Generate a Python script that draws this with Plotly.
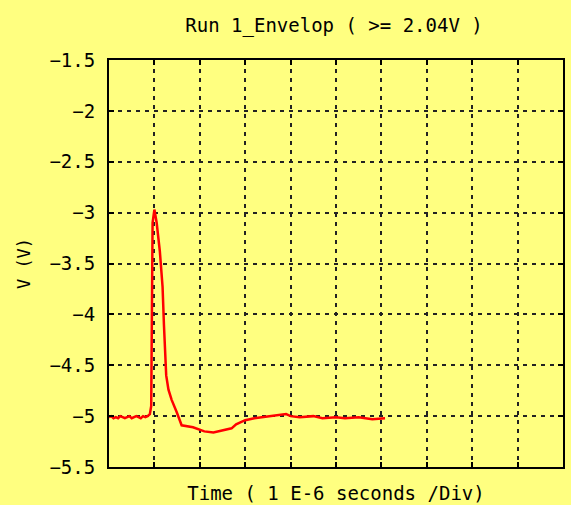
import plotly.graph_objects as go

# Envelope capture: time in divisions of 1 µs, voltage in V
time_div = [0.00, 0.05, 0.10, 0.15, 0.20, 0.25, 0.30, 0.35, 0.40, 0.45,
            0.50, 0.55, 0.60, 0.65, 0.70, 0.75, 0.80, 0.85, 0.90, 0.93,
            0.96, 1.00, 1.02, 1.05, 1.12, 1.18, 1.21, 1.26, 1.31, 1.38,
            1.49, 1.60, 1.85, 2.10, 2.30, 2.50, 2.70, 2.80, 3.00, 3.20,
            3.50, 3.70, 3.90, 4.00, 4.20, 4.50, 4.70, 5.00, 5.20, 5.50,
            5.80, 6.08]
volts = [-5.01, -5.00, -5.02, -5.01, -5.02, -5.00, -5.01, -5.02, -5.01, -5.00,
         -5.02, -5.01, -5.00, -5.01, -5.02, -5.00, -5.01, -5.00, -4.98, -4.90,
         -3.10, -2.97, -3.02, -3.10, -3.38, -3.73, -4.10, -4.60, -4.74, -4.84,
         -4.96, -5.09, -5.11, -5.15, -5.16, -5.14, -5.12, -5.08, -5.04, -5.02,
         -5.00, -4.99, -4.98, -5.00, -5.01, -5.00, -5.02, -5.01, -5.02, -5.01,
         -5.03, -5.02]

y_ticks = [-1.5, -2, -2.5, -3, -3.5, -4, -4.5, -5, -5.5]
y_tick_text = ["\u22121.5", "\u22122", "\u22122.5", "\u22123", "\u22123.5",
               "\u22124", "\u22124.5", "\u22125", "\u22125.5"]

BG = "#FFFF80"
MONO = "DejaVu Sans Mono, Liberation Mono, monospace"

fig = go.Figure()
fig.add_trace(go.Scatter(
    x=time_div, y=volts, mode="lines",
    line=dict(color="#FF0000", width=2.5),
    showlegend=False, hoverinfo="skip",
))

axis_common = dict(
    showline=True, linecolor="#000000", linewidth=2, mirror="ticks",
    ticks="inside", ticklen=5, tickwidth=2, tickcolor="#000000",
    showgrid=True, gridcolor="#222222", gridwidth=1.5, griddash="4px,5px",
    zeroline=False,
)

fig.update_layout(
    width=571, height=505,
    paper_bgcolor=BG, plot_bgcolor=BG,
    margin=dict(l=109, r=8, t=60, b=38),
    title=dict(text="Run 1_Envelop ( >= 2.04V )", x=0.585, xanchor="center",
               y=0.95, yanchor="middle",
               font=dict(family=MONO, size=19, color="#000000")),
    xaxis=dict(range=[0, 10], dtick=1, showticklabels=False, automargin=False,
               title=dict(text="Time ( 1 E-6 seconds /Div)", standoff=19,
                          font=dict(family=MONO, size=19, color="#000000")),
               **axis_common),
    yaxis=dict(range=[-5.5, -1.5], tickvals=y_ticks, ticktext=y_tick_text,
               tickfont=dict(family=MONO, size=19, color="#000000"),
               ticklabelstandoff=8, automargin=False,
               title=dict(text="V (V)", standoff=14,
                          font=dict(family=MONO, size=17, color="#000000")),
               **axis_common),
)

fig.write_html("out.html")
